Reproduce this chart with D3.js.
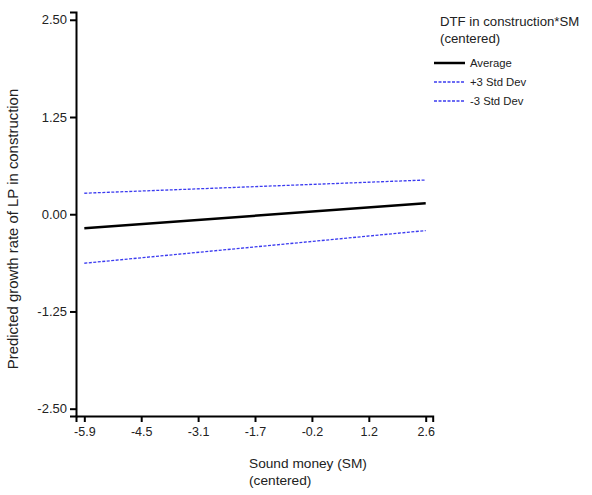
<!DOCTYPE html>
<html>
<head>
<meta charset="utf-8">
<script src="https://cdn.jsdelivr.net/npm/d3@7"></script>
<style>
  body { margin: 0; background: #fff; }
  svg { font-family: "Liberation Sans", Arial, sans-serif; }
</style>
</head>
<body>
<div id="chart"></div>
<script>
// x positions where the lines are evaluated (SM centered)
var xEnds = [-5.9, 2.6];
// predicted values at each end
var averageValues = [-0.18, 0.14];
var plusSdValues = [0.27, 0.44];
var minusSdValues = [-0.63, -0.21];

var seriesNames = ["Average", "+3 Std Dev", "-3 Std Dev"];
var xTickLabels = ["-5.9", "-4.5", "-3.1", "-1.7", "-0.2", "1.2", "2.6"];
var yTickValues = [-2.5, -1.25, 0, 1.25, 2.5];

var width = 592;
var height = 495;

var svg = d3.select("#chart").append("svg")
    .attr("width", width)
    .attr("height", height);

// scales
var x = d3.scaleLinear()
    .domain([-6.107, 2.774])
    .range([76, 432.7]);

var y = d3.scaleLinear()
    .domain([-2.594, 2.6])
    .range([416, 12]);

// x ticks are evenly spaced from -5.9 to 2.6
var xTickPos = xTickLabels.map(function(d, i) {
    return -5.9 + i * 8.5 / (xTickLabels.length - 1);
});

// x axis
var gx = svg.append("g")
    .attr("transform", "translate(0,416)")
    .call(d3.axisBottom(x)
        .tickValues(xTickPos)
        .tickFormat(function(d, i) { return xTickLabels[i]; })
        .tickSizeOuter(0)
        .tickSize(6)
        .tickPadding(5));

// y axis (plain hyphen instead of unicode minus)
var fmt = d3.format(".2f");
var gy = svg.append("g")
    .attr("transform", "translate(76,0)")
    .call(d3.axisLeft(y)
        .tickValues(yTickValues)
        .tickFormat(function(d) { return fmt(d).replace("\u2212", "-"); })
        .tickSizeOuter(0)
        .tickSize(6)
        .tickPadding(3));

svg.selectAll(".domain").attr("stroke", "#000").attr("stroke-width", 2);
svg.selectAll(".tick line").attr("stroke", "#000").attr("stroke-width", 2);
gx.selectAll(".tick text").attr("font-size", 12.5);
gy.selectAll(".tick text").attr("font-size", 13);
svg.selectAll(".tick text").attr("fill", "#222")
    .attr("font-family", "'Liberation Sans', Arial, sans-serif");

// axis titles
svg.append("text")
    .attr("x", 249).attr("y", 468)
    .attr("font-size", 13.7).attr("fill", "#222")
    .text("Sound money (SM)");
svg.append("text")
    .attr("x", 249).attr("y", 485)
    .attr("font-size", 13.7).attr("fill", "#222")
    .text("(centered)");

svg.append("text")
    .attr("transform", "translate(18,229) rotate(-90)")
    .attr("text-anchor", "middle")
    .attr("font-size", 14.9).attr("fill", "#222")
    .text("Predicted growth rate of LP in construction");

// lines
var series = [
    { name: seriesNames[0], values: averageValues, color: "#000", width: 2.5, dash: null },
    { name: seriesNames[1], values: plusSdValues, color: "#3b3bf0", width: 1.3, dash: "3,1.5" },
    { name: seriesNames[2], values: minusSdValues, color: "#3b3bf0", width: 1.3, dash: "3,1.5" }
];

var line = d3.line()
    .x(function(d) { return x(d[0]); })
    .y(function(d) { return y(d[1]); });

series.forEach(function(s) {
    svg.append("path")
        .datum(xEnds.map(function(xv, i) { return [xv, s.values[i]]; }))
        .attr("d", line)
        .attr("fill", "none")
        .attr("stroke", s.color)
        .attr("stroke-width", s.width)
        .attr("stroke-dasharray", s.dash);
});

// legend
var legend = svg.append("g").attr("transform", "translate(440,0)");
legend.append("text")
    .attr("x", 0).attr("y", 26)
    .attr("font-size", 13.2).attr("fill", "#222")
    .text("DTF in construction*SM");
legend.append("text")
    .attr("x", 0).attr("y", 43)
    .attr("font-size", 13.2).attr("fill", "#222")
    .text("(centered)");

series.forEach(function(s, i) {
    var yy = 63 + i * 19;
    legend.append("line")
        .attr("x1", -6).attr("x2", 25)
        .attr("y1", yy).attr("y2", yy)
        .attr("stroke", s.color)
        .attr("stroke-width", s.width)
        .attr("stroke-dasharray", s.dash);
    legend.append("text")
        .attr("x", 30).attr("y", yy + 4)
        .attr("font-size", 11.3).attr("fill", "#222")
        .text(s.name);
});
</script>
</body>
</html>
